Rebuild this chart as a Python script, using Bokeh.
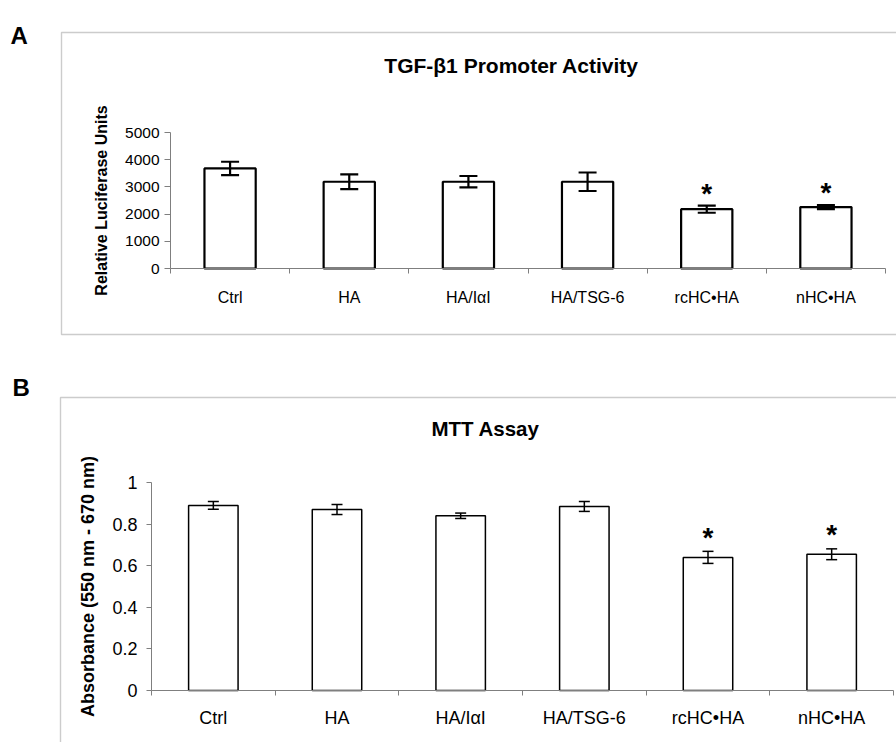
from bokeh.plotting import figure
from bokeh.models import (Range1d, FixedTicker, ColumnDataSource, Whisker, TeeHead,
                          Label, BoxAnnotation, LinearAxis)
from bokeh.layouts import column
from bokeh.embed import file_html
from bokeh.resources import INLINE
from bokeh.core.properties import value

# ---------------- data ----------------
categories = ["Ctrl", "HA", "HA/IαI", "HA/TSG-6", "rcHC•HA", "nHC•HA"]

tgf_mean = [3680, 3190, 3190, 3190, 2180, 2260]
tgf_err = [245, 270, 210, 340, 130, 75]

mtt_mean = [0.89, 0.87, 0.84, 0.885, 0.64, 0.655]
mtt_err = [0.019, 0.024, 0.013, 0.024, 0.029, 0.026]

significant = [False, False, False, False, True, True]

tgf_ticks = [0, 1000, 2000, 3000, 4000, 5000]
tgf_tick_labels = ["0", "1000", "2000", "3000", "4000", "5000"]
mtt_ticks = [0, 0.2, 0.4, 0.6, 0.8, 1.0]
mtt_tick_labels = ["0", "0.2", "0.4", "0.6", "0.8", "1"]

FONT = "Liberation Sans"
AXIS_GRAY = "#7f7f7f"
W = 896


def make_panel(letter, title, ylabel, means, errs, ticks, tick_labels, g):
    n = len(categories)
    H = g["height"]
    xs = [i + 0.5 for i in range(n)]
    # pixel geometry of the axes inside the canvas
    px0, px1 = g["ax_x0"], g["ax_x1"]      # canvas x of first / last category border
    py0, py1 = g["ax_y0"], g["ax_y1"]      # canvas y of lowest / highest tick
    kx = (px1 - px0) / n
    ky = (py0 - py1) / (ticks[-1] - ticks[0])
    x_range = Range1d(-px0 / kx, n + (W - px1) / kx)
    y_range = Range1d(ticks[0] - (H - py0) / ky, ticks[-1] + py1 / ky)

    p = figure(width=W, height=H, x_range=x_range, y_range=y_range,
               x_axis_type=None, y_axis_type=None,
               output_backend="svg", toolbar_location=None, min_border=0,
               background_fill_color="white", border_fill_color="white")
    p.frame_align = False
    p.outline_line_color = None
    p.grid.visible = False

    src = ColumnDataSource(dict(
        x=xs, top=means,
        upper=[m + e for m, e in zip(means, errs)],
        lower=[m - e for m, e in zip(means, errs)],
    ))
    p.vbar(x="x", top="top", bottom=ticks[0], width=g["bar_w"], source=src,
           fill_color="white", line_color="black", line_width=g["bar_lw"])

    p.add_layout(Whisker(base="x", upper="upper", lower="lower", source=src, level="overlay",
                         line_color="black", line_width=g["err_lw"],
                         upper_head=TeeHead(size=g["cap"], line_width=g["err_lw"], line_color="black"),
                         lower_head=TeeHead(size=g["cap"], line_width=g["err_lw"], line_color="black")))

    sig_x = [x for x, s in zip(xs, significant) if s]
    sig_y = [m + e for m, e, s in zip(means, errs, significant) if s]
    p.text(x=sig_x, y=sig_y, text=["*"] * len(sig_x), text_align="center",
           text_baseline="alphabetic", y_offset=g["ast_off"],
           text_font=value(FONT), text_font_style="bold",
           text_font_size=g["ast_fs"], text_color="black")

    # x axis: labels at category centres, tick marks at category borders
    xa = LinearAxis(fixed_location=ticks[0], bounds=(0, n))
    xa.ticker = FixedTicker(ticks=xs, minor_ticks=list(range(n + 1)))
    xa.major_label_overrides = {x: c for x, c in zip(xs, categories)}
    xa.major_tick_in = 0
    xa.major_tick_out = 0
    xa.minor_tick_in = 0
    xa.minor_tick_out = 5
    xa.minor_tick_line_color = AXIS_GRAY
    xa.axis_line_color = AXIS_GRAY
    xa.major_label_standoff = g["xl_stand"]
    xa.major_label_text_font = FONT
    xa.major_label_text_font_size = g["xl_fs"]
    xa.major_label_text_color = "black"
    p.add_layout(xa, "below")

    ya = LinearAxis(fixed_location=0, bounds=(ticks[0], ticks[-1]))
    ya.ticker = FixedTicker(ticks=ticks, minor_ticks=[])
    ya.major_label_overrides = {t: l for t, l in zip(ticks, tick_labels)}
    ya.major_tick_in = 0
    ya.major_tick_out = g["ytick"]
    ya.major_tick_line_color = AXIS_GRAY
    ya.axis_line_color = AXIS_GRAY
    ya.major_label_standoff = g["yl_stand"]
    ya.major_label_text_font = FONT
    ya.major_label_text_font_size = g["yl_fs"]
    ya.major_label_text_color = "black"
    ya.axis_label = ylabel
    ya.axis_label_text_font = FONT
    ya.axis_label_text_font_style = "bold"
    ya.axis_label_text_font_size = g["ax_fs"]
    ya.axis_label_text_color = "black"
    ya.axis_label_standoff = g["ax_stand"]
    p.add_layout(ya, "left")

    # outer frame of the panel (its right / bottom edges fall outside the picture)
    p.add_layout(BoxAnnotation(left=g["box_l"], right=W + 50, top=g["box_t"], bottom=g["box_b"],
                               left_units="canvas", right_units="canvas",
                               top_units="canvas", bottom_units="canvas",
                               fill_alpha=0, line_color="#555555", line_width=1.4))

    p.add_layout(Label(x=g["let_x"], y=g["let_y"], x_units="canvas", y_units="canvas",
                       text=letter, text_font=FONT, text_font_style="bold",
                       text_font_size="24px", text_color="black",
                       text_baseline="alphabetic", text_align="left"))
    p.add_layout(Label(x=g["tit_x"], y=g["tit_y"], x_units="canvas", y_units="canvas",
                       text=title, text_font=FONT, text_font_style="bold",
                       text_font_size=g["tit_fs"], text_color="black",
                       text_baseline="alphabetic", text_align="center"))
    return p


geo_a = dict(height=363, ax_x0=170, ax_x1=885, ax_y0=268, ax_y1=132,
             bar_w=0.43, bar_lw=2.2, err_lw=2.2, cap=18,
             ast_fs="28px", ast_off=-12,
             xl_stand=15, xl_fs="16px", ytick=6, yl_stand=5, yl_fs="15.5px",
             ax_fs="16px", ax_stand=12,
             box_l=61, box_t=32, box_b=334,
             let_x=10, let_y=35, tit_x=511, tit_y=65, tit_fs="21px")

geo_b = dict(height=379, ax_x0=151, ax_x1=893, ax_y0=327, ax_y1=119,
             bar_w=0.40, bar_lw=1.5, err_lw=1.5, cap=11,
             ast_fs="28px", ast_off=-14,
             xl_stand=12, xl_fs="18px", ytick=5, yl_stand=9, yl_fs="18px",
             ax_fs="18px", ax_stand=11,
             box_l=60, box_t=34, box_b=379 + 50,
             let_x=12, let_y=24, tit_x=485, tit_y=65, tit_fs="20.5px")

pa = make_panel("A", "TGF-β1 Promoter Activity", "Relative Luciferase Units",
                tgf_mean, tgf_err, tgf_ticks, tgf_tick_labels, geo_a)
pb = make_panel("B", "MTT Assay", "Absorbance (550 nm - 670 nm)",
                mtt_mean, mtt_err, mtt_ticks, mtt_tick_labels, geo_b)

layout = column(pa, pb, spacing=0)
open("out.html", "w").write(file_html(layout, INLINE))
